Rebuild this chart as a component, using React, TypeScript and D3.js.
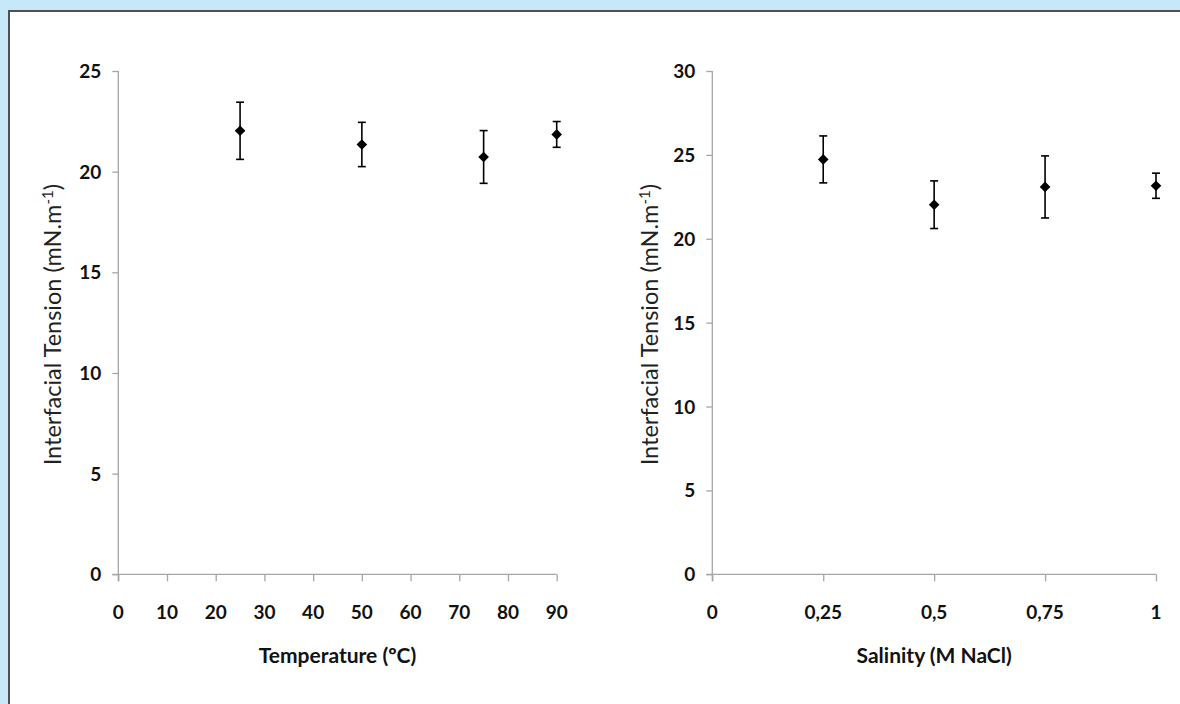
import { useEffect, useRef } from 'react';
import * as d3 from 'd3';

// Temperature panel
const tempX = [25, 50, 75, 90];
const tempY = [22.03, 21.35, 20.73, 21.85];
const tempErr = [1.42, 1.1, 1.31, 0.64];
const tempXTicks = [0, 10, 20, 30, 40, 50, 60, 70, 80, 90];
const tempYTicks = [0, 5, 10, 15, 20, 25];

// Salinity panel
const salX = [0.25, 0.5, 0.75, 1];
const salY = [24.73, 22.03, 23.09, 23.16];
const salErr = [1.4, 1.42, 1.85, 0.75];
const salXTicks = [0, 0.25, 0.5, 0.75, 1];
const salXLabels = ['0', '0,25', '0,5', '0,75', '1'];
const salYTicks = [0, 5, 10, 15, 20, 25, 30];

const FONT = 'Lato, "Open Sans", sans-serif';

const drawPanel = (svg, opts) => {
  const { left, right, top, bottom, xDomain, yDomain, xTicks, xLabels, yTicks, xs, ys, errs, xTitle, titleX } = opts;

  const x = d3.scaleLinear().domain(xDomain).range([left, right]);
  const y = d3.scaleLinear().domain(yDomain).range([bottom, top]);

  const g = svg.append('g');
  const axisColor = '#a6a6a6';

  // axes
  g.append('g')
    .attr('transform', `translate(0,${bottom})`)
    .call(d3.axisBottom(x).tickValues(xTicks).tickSize(7).tickFormat(() => ''))
    .call(a => a.select('.domain').attr('d', `M${left - 6},0H${right}`));

  g.append('g')
    .attr('transform', `translate(${left},0)`)
    .call(d3.axisLeft(y).tickValues(yTicks).tickSize(6).tickFormat(() => ''))
    .call(a => a.select('.domain').attr('d', `M0,${top}V${bottom + 7}`));

  g.selectAll('.domain, .tick line')
    .attr('stroke', axisColor)
    .attr('stroke-width', 1.3);

  // tick labels
  g.selectAll('.xlab')
    .data(xTicks)
    .enter()
    .append('text')
    .attr('x', d => x(d))
    .attr('y', bottom + 45)
    .attr('text-anchor', 'middle')
    .style('font-family', FONT)
    .style('font-weight', 700)
    .style('font-size', '19px')
    .style('fill', '#111')
    .text((d, i) => (xLabels ? xLabels[i] : d));

  g.selectAll('.ylab')
    .data(yTicks)
    .enter()
    .append('text')
    .attr('x', left - 17)
    .attr('y', d => y(d) + 7)
    .attr('text-anchor', 'end')
    .style('font-family', FONT)
    .style('font-weight', 700)
    .style('font-size', '19px')
    .style('fill', '#111')
    .text(d => d);

  // x title
  g.append('text')
    .attr('x', (left + right) / 2)
    .attr('y', bottom + 89)
    .attr('text-anchor', 'middle')
    .style('font-family', FONT)
    .style('font-weight', 700)
    .style('font-size', '21px')
    .style('fill', '#111')
    .text(xTitle);

  // y title
  const yt = g.append('text')
    .attr('transform', `translate(${titleX},${(top + bottom) / 2 + 2}) rotate(-90)`)
    .attr('text-anchor', 'middle')
    .style('font-family', FONT)
    .style('font-size', '23.5px')
    .style('fill', '#222');
  yt.append('tspan').text('Interfacial Tension (mN.m');
  yt.append('tspan').attr('dy', -8).style('font-size', '15px').text('-1');
  yt.append('tspan').attr('dy', 8).text(')');

  // error bars
  const pts = xs.map((v, i) => ({ x: v, y: ys[i], e: errs[i] }));
  const eb = g.selectAll('.eb').data(pts).enter().append('g');
  eb.append('line')
    .attr('x1', d => x(d.x)).attr('x2', d => x(d.x))
    .attr('y1', d => y(d.y + d.e)).attr('y2', d => y(d.y - d.e));
  eb.append('line')
    .attr('x1', d => x(d.x) - 4).attr('x2', d => x(d.x) + 4)
    .attr('y1', d => y(d.y + d.e)).attr('y2', d => y(d.y + d.e));
  eb.append('line')
    .attr('x1', d => x(d.x) - 4).attr('x2', d => x(d.x) + 4)
    .attr('y1', d => y(d.y - d.e)).attr('y2', d => y(d.y - d.e));
  eb.selectAll('line').attr('stroke', '#000').attr('stroke-width', 1.6);

  // markers
  g.selectAll('.pt')
    .data(pts)
    .enter()
    .append('path')
    .attr('d', d3.symbol(d3.symbolDiamond2, 72)())
    .attr('transform', d => `translate(${x(d.x)},${y(d.y)})`)
    .attr('fill', '#000');
};

const App = () => {
  const svgRef = useRef(null);

  useEffect(() => {
    const svg = d3.select(svgRef.current);
    svg.selectAll('*').remove();

    svg.append('rect').attr('width', 1180).attr('height', 704).attr('fill', '#c7e8f8');
    svg.append('rect')
      .attr('x', 9).attr('y', 11)
      .attr('width', 1190).attr('height', 720)
      .attr('fill', '#fff')
      .attr('stroke', '#505050')
      .attr('stroke-width', 2);

    drawPanel(svg, {
      left: 118.3, right: 556.7, top: 71, bottom: 574.3,
      xDomain: [0, 90], yDomain: [0, 25],
      xTicks: tempXTicks, xLabels: null, yTicks: tempYTicks,
      xs: tempX, ys: tempY, errs: tempErr,
      xTitle: 'Temperature (ºC)', titleX: 61,
    });

    drawPanel(svg, {
      left: 712.3, right: 1156, top: 71, bottom: 574.3,
      xDomain: [0, 1], yDomain: [0, 30],
      xTicks: salXTicks, xLabels: salXLabels, yTicks: salYTicks,
      xs: salX, ys: salY, errs: salErr,
      xTitle: 'Salinity (M NaCl)', titleX: 658,
    });
  }, []);

  return (
    <svg
      ref={svgRef}
      width={1180}
      height={704}
      style={{ position: 'absolute', left: 0, top: 0 }}
    />
  );
};

export default App;
